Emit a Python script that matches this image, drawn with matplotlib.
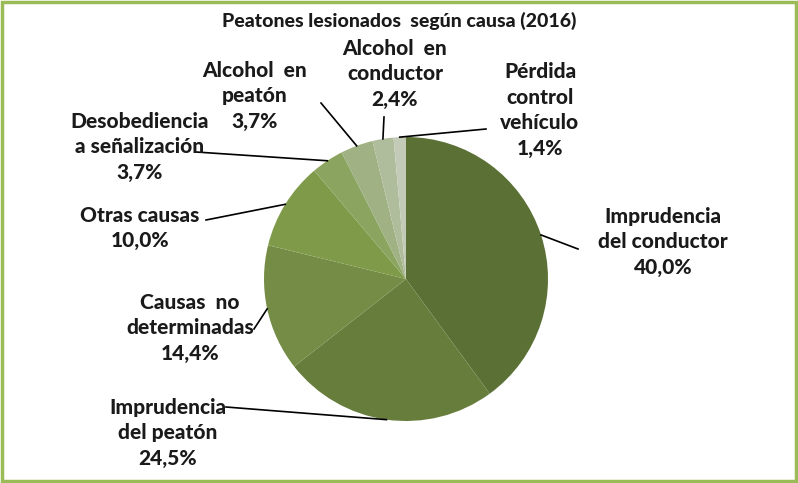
import numpy as np
import matplotlib
matplotlib.use("Agg")
import matplotlib.pyplot as plt
from matplotlib.patches import Rectangle

# Data
causas = ["Imprudencia\ndel conductor", "Imprudencia\ndel peatón", "Causas  no\ndeterminadas",
          "Otras causas", "Desobediencia\na señalización", "Alcohol  en\npeatón",
          "Alcohol  en\nconductor", "Pérdida\ncontrol\nvehículo"]
porcentajes = [40.0, 24.5, 14.4, 10.0, 3.7, 3.7, 2.4, 1.4]
colores = ["#5b7034", "#677d3c", "#748c46", "#7f9b4a", "#8ba560", "#a0b183", "#b0bd9c", "#c3cbb8"]

W, H = 798, 483
fig = plt.figure(figsize=(W / 100, H / 100), dpi=100)
ax = fig.add_axes([0, 0, 1, 1])

cx, cy, r = 406, H - 279, 142
wedges, _ = ax.pie(porcentajes, colors=colores, startangle=90, counterclock=False,
                   center=(cx, cy), radius=r, frame=True)
ax.set_xlim(0, W)
ax.set_ylim(0, H)
ax.set_aspect("equal")
ax.axis("off")

# label text centre (pixels from top-left) and end of leader line
text_pos = [(663, 242), (168, 433), (190, 328), (140, 228), (140, 147), (255, 96), (395, 74), (540, 110)]
line_end = [(578, 249), (226, 407), (254, 329), (206, 220), (196, 152), (321, 103), (384, 117), (486, 129)]

font = dict(family=["Lato", "DejaVu Sans"], fontweight=900, fontsize=15, color="#1a1a1a")
for w, name, pct, tp, le in zip(wedges, causas, porcentajes, text_pos, line_end):
    ang = np.deg2rad((w.theta1 + w.theta2) / 2)
    px, py = cx + r * np.cos(ang), cy + r * np.sin(ang)
    ax.plot([px, le[0]], [py, H - le[1]], color="black", lw=1.2)
    label = f"{name}\n{pct:.1f}%".replace(".", ",")
    ax.text(tp[0], H - tp[1], label, ha="center", va="center", linespacing=1.42, **font)

fig.text(0.5, 1 - 21 / H, "Peatones lesionados  según causa (2016)", ha="center", va="center",
         family=["Lato", "DejaVu Sans"], fontweight=900, fontsize=14, color="#1a1a1a")

fig.patches.append(Rectangle((2 / W, 2 / H), 1 - 4 / W, 1 - 4 / H, transform=fig.transFigure,
                             fill=False, edgecolor="#9bbb59", lw=2.5))

fig.savefig("out.png", dpi=100)
